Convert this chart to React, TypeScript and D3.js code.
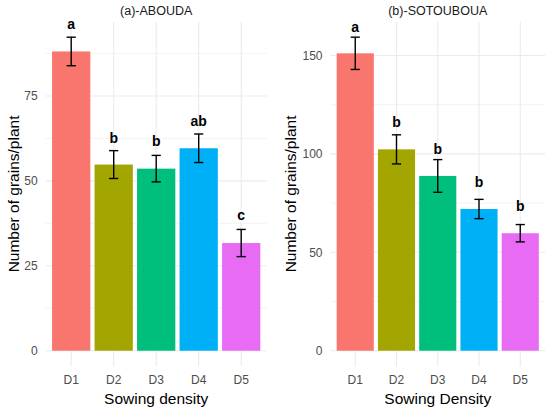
import { useEffect } from "react"
import * as d3 from "d3"

const categories = ["D1", "D2", "D3", "D4", "D5"]
const fillColors = ["#F8766D", "#A3A500", "#00BF7D", "#00B0F6", "#E76BF3"]

// (a) ABOUDA
const aboudaMeans = [88.1, 54.8, 53.6, 59.6, 31.7]
const aboudaSE = [4.2, 4.1, 3.9, 4.2, 4.0]
const aboudaLetters = ["a", "b", "b", "ab", "c"]
const aboudaLetterY = [94.6, 61.1, 60.2, 66.1, 38.4]
const aboudaTicks = [0, 25, 50, 75]

// (b) SOTOUBOUA
const sotMeans = [151.1, 102.3, 88.8, 72.0, 59.7]
const sotSE = [8.2, 7.4, 8.3, 4.9, 4.4]
const sotLetters = ["a", "b", "b", "b", "b"]
const sotLetterY = [161.9, 113.7, 99.7, 83.3, 71.0]
const sotTicks = [0, 50, 100, 150]

const FONT = "'Liberation Sans', Arial, sans-serif"
const TOP = 21.5
const BOTTOM = 366.4

interface PanelProps {
  title: string
  xTitle: string
  means: number[]
  se: number[]
  letters: string[]
  letterY: number[]
  ticks: number[]
  x0: number
  x1: number
  yTitleX: number
}

function Panel({ title, xTitle, means, se, letters, letterY, ticks, x0, x1, yTitleX }: PanelProps) {
  const maxTop = d3.max(means.map((m, i) => m + se[i])) ?? 0
  const y = d3.scaleLinear().domain([-0.05 * maxTop, 1.05 * maxTop]).range([BOTTOM, TOP])
  const x = d3.scaleBand<string>().domain(categories).range([x0, x1])
    .paddingInner(0.1).paddingOuter(0.15)

  const step = ticks[1] - ticks[0]
  const minor = ticks.map(t => t + step / 2).filter(t => t < y.domain()[1])
  const bw = x.bandwidth()
  const cx = (c: string) => (x(c) ?? 0) + bw / 2
  const capW = 4.6

  return (
    <g>
      {minor.map(t => (
        <line key={"m" + t} x1={x0} x2={x1} y1={y(t)} y2={y(t)} stroke="#EBEBEB" strokeWidth={0.6} />
      ))}
      {ticks.map(t => (
        <line key={"M" + t} x1={x0} x2={x1} y1={y(t)} y2={y(t)} stroke="#EBEBEB" strokeWidth={1.1} />
      ))}
      {categories.map(c => (
        <line key={"v" + c} x1={cx(c)} x2={cx(c)} y1={TOP} y2={BOTTOM} stroke="#EBEBEB" strokeWidth={1.1} />
      ))}
      {categories.map((c, i) => (
        <rect key={"b" + c} x={x(c)} width={bw} y={y(means[i])} height={y(0) - y(means[i])} fill={fillColors[i]} />
      ))}
      {categories.map((c, i) => {
        const hi = y(means[i] + se[i])
        const lo = y(means[i] - se[i])
        const xc = cx(c)
        return (
          <g key={"e" + c} stroke="#000" strokeWidth={1.4}>
            <line x1={xc} x2={xc} y1={hi} y2={lo} />
            <line x1={xc - capW} x2={xc + capW} y1={hi} y2={hi} />
            <line x1={xc - capW} x2={xc + capW} y1={lo} y2={lo} />
          </g>
        )
      })}
      {categories.map((c, i) => (
        <text key={"l" + c} x={cx(c)} y={y(letterY[i])} textAnchor="middle" fontFamily={FONT}
          fontWeight="bold" fontSize={14} fill="#000">{letters[i]}</text>
      ))}
      {ticks.map(t => (
        <text key={"t" + t} x={x0 - 8} y={y(t)} dy="0.36em" textAnchor="end" fontFamily={FONT}
          fontSize={12} fill="#4D4D4D">{t}</text>
      ))}
      {categories.map(c => (
        <text key={"x" + c} x={cx(c)} y={384} textAnchor="middle" fontFamily={FONT}
          fontSize={12} fill="#4D4D4D">{c}</text>
      ))}
      <text x={(x0 + x1) / 2} y={15} textAnchor="middle" fontFamily={FONT} fontSize={12.5} fill="#1A1A1A">{title}</text>
      <text x={(x0 + x1) / 2} y={403.5} textAnchor="middle" fontFamily={FONT} fontSize={15.5} fill="#000">{xTitle}</text>
      <text transform={`translate(${yTitleX},${(TOP + BOTTOM) / 2}) rotate(-90)`} dy="0.36em" textAnchor="middle"
        fontFamily={FONT} fontSize={15.5} fill="#000">Number of grains/plant</text>
    </g>
  )
}

export default function App() {
  useEffect(() => {
    document.body.style.margin = "0"
  }, [])

  return (
    <svg width={550} height={411} style={{ display: "block", background: "#fff" }}>
      <Panel title="(a)-ABOUDA" xTitle="Sowing density" means={aboudaMeans} se={aboudaSE}
        letters={aboudaLetters} letterY={aboudaLetterY} ticks={aboudaTicks} x0={45.7} x1={266.7} yTitleX={13} />
      <Panel title="(b)-SOTOUBOUA" xTitle="Sowing Density" means={sotMeans} se={sotSE}
        letters={sotLetters} letterY={sotLetterY} ticks={sotTicks} x0={330.5} x1={545} yTitleX={290} />
    </svg>
  )
}
